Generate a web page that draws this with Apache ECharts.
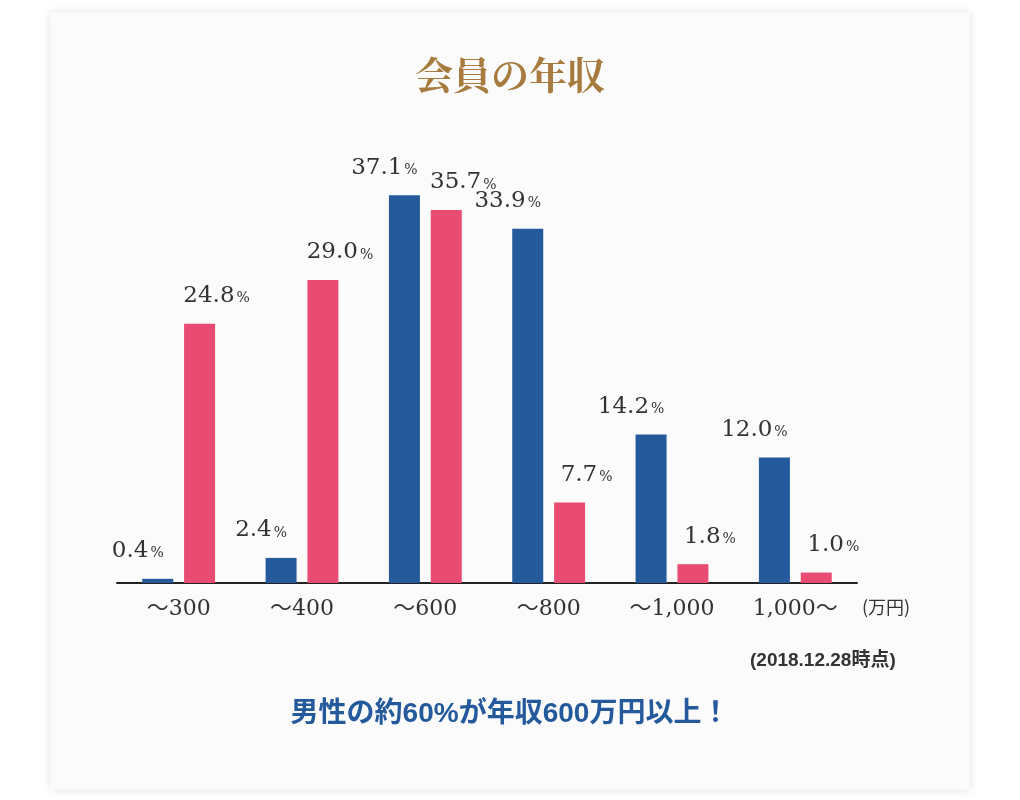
<!DOCTYPE html>
<html><head><meta charset="utf-8">
<script src="https://cdn.jsdelivr.net/npm/echarts@6/dist/echarts.min.js"></script>
<style>html,body{margin:0;padding:0;background:#fff}#c{width:1020px;height:800px}</style>
</head><body><div id="c"></div>
<script>
const categories = ['～300','～400','～600','～800','～1,000','1,000～'];
const maleValues = [0.4, 2.4, 37.1, 33.9, 14.2, 12.0];
const femaleValues = [24.8, 29.0, 35.7, 7.7, 1.8, 1.0];
const titleText = '会員の年収';
const unitText = '(万円)';
const dateText = '(2018.12.28時点)';
const noteText = '男性の約60%が年収600万円以上！';

const chart = echarts.init(document.getElementById('c'));
function lbl(dx) {
  return {
    show: true, position: 'top', distance: 16, offset: [dx, 0],
    formatter: p => '{n|' + p.value.toFixed(1) + '}{p|%}',
    rich: {
      n: {fontSize: 23, color: '#333', fontFamily: '"DejaVu Serif",serif'},
      p: {fontSize: 14, color: '#333', fontFamily: '"DejaVu Serif",serif', padding: [5,0,0,2]}
    }
  };
}
chart.setOption({
  animation: false,
  graphic: [
    {type: 'rect', shape: {x: 50, y: 12, width: 920, height: 778},
     style: {fill: '#fbfbfb', shadowBlur: 8, shadowColor: 'rgba(0,0,0,0.12)'}, z: -10},
    {type: 'text', left: 'center', top: 56, style: {text: titleText, fontSize: 38, fontWeight: 'bold',
      fill: '#a67b3d', fontFamily: '"Noto Serif CJK JP","Noto Sans CJK JP",serif'}},
    {type: 'text', left: 862, top: 598, style: {text: unitText, fontSize: 18, fill: '#333',
      fontFamily: '"Noto Sans CJK JP",sans-serif'}},
    {type: 'text', left: 750, top: 651, style: {text: dateText, fontSize: 19, fill: '#333',
      fontWeight: 'bold', fontFamily: '"Liberation Sans","Noto Sans CJK JP",sans-serif'}},
    {type: 'text', left: 'center', top: 700, style: {text: noteText, fontSize: 28, fill: '#245a9c',
      fontWeight: 'bold', fontFamily: '"Liberation Sans","Noto Sans CJK JP",sans-serif'}}
  ],
  grid: {left: 117, right: 163, top: 165, bottom: 217},
  xAxis: {type: 'category', data: categories,
    axisLine: {lineStyle: {color: '#222', width: 2}}, axisTick: {show: false},
    axisLabel: {fontSize: 22, color: '#333', margin: 15, fontFamily: '"DejaVu Serif","Noto Sans CJK JP",serif'}},
  yAxis: {type: 'value', min: 0, max: 40, show: false},
  series: [
    {type: 'bar', data: maleValues, barWidth: 31, barGap: '35%', itemStyle: {color: '#245a9c'}, label: lbl(-20)},
    {type: 'bar', data: femaleValues, barWidth: 31, itemStyle: {color: '#e84c73'}, label: lbl(17)}
  ]
});
</script></body></html>
